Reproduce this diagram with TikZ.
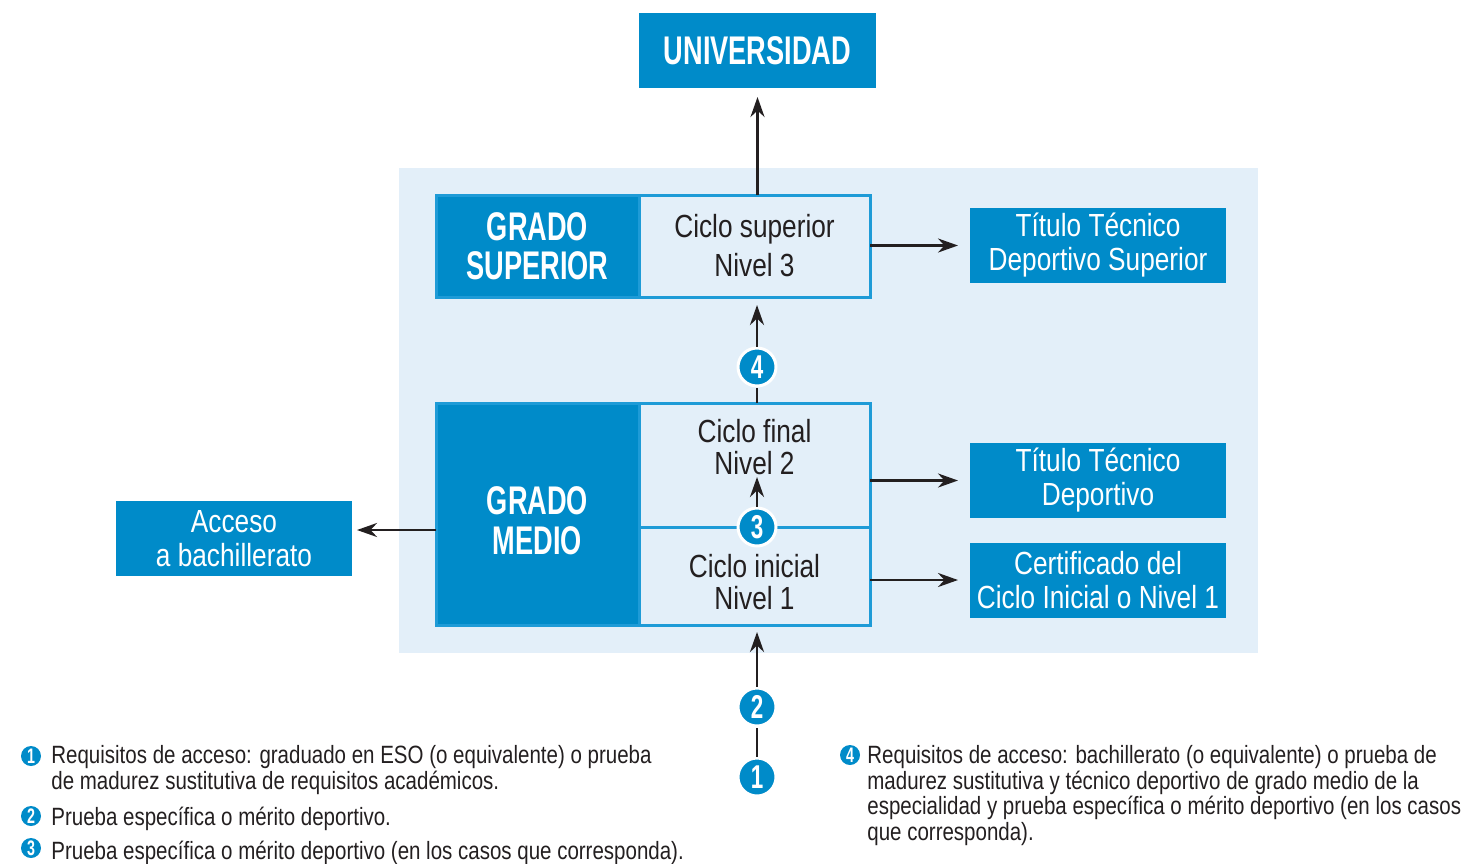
\documentclass[tikz,border=0pt]{standalone}
\usepackage{fontspec}
\setmainfont{Liberation Sans}[FakeStretch=0.82]
\newfontfamily\headfont{Liberation Sans}[FakeStretch=0.68]
\usetikzlibrary{positioning, calc, arrows.meta}
\definecolor{azul}{RGB}{0,139,201}
\definecolor{celeste}{RGB}{227,239,249}
\definecolor{borde}{RGB}{30,155,215}
\definecolor{flecha}{RGB}{35,31,32}

\begin{document}
\begin{tikzpicture}[
         x=0.5pt, y=-0.5pt,
         grado/.style={fill=azul, draw=borde, line width=1.5pt, outer sep=0pt, inner sep=0pt, text=white, align=center, font=\headfont\bfseries\fontsize{20}{19.5}\selectfont},
         ciclo/.style={fill=celeste, draw=borde, line width=1.5pt, outer sep=0pt, inner sep=0pt, minimum width=115.5pt, align=center, text=flecha, font=\fontsize{16}{16}\selectfont},
         rotulo/.style={align=center, inner sep=0pt, text=flecha},
         titulo/.style={fill=azul, text=white, outer sep=0pt, inner sep=0pt, minimum width=128pt, minimum height=37.5pt, align=center, font=\fontsize{16}{17}\selectfont},
         paso/.style={circle, fill=azul, draw=white, line width=1.5pt, text=white, minimum size=19pt, inner sep=0pt, font=\headfont\bfseries\fontsize{16.5}{16.5}\selectfont},
         bolita/.style={circle, fill=azul, text=white, minimum size=10pt, inner sep=0pt, font=\headfont\bfseries\fontsize{10.5}{10.5}\selectfont},
         nota/.style={anchor=north west, inner sep=0pt, align=left, text=flecha, font=\fontsize{12.5}{12.8}\selectfont},
         linea/.style={line width=1.4pt, draw=flecha},
         arr/.style={linea, -{Stealth[length=10pt, width=7pt]}}
      ]
         \useasboundingbox (0,0) rectangle (1481,863);
         \fill[celeste] (399,168) rectangle (1258,653);

         % Grado superior
         \node[grado, minimum width=101.5pt, minimum height=51pt] (supL) at (537.5,246) {GRADO\\SUPERIOR};
         \node[ciclo, minimum height=51pt, right=0pt of supL, font=\fontsize{16}{19.5}\selectfont] (supR) {Ciclo superior\\Nivel 3};

         % Grado medio
         \node[grado, minimum width=101.5pt, minimum height=111pt] (medL) at (537.5,514) {};
         \node[ciclo, minimum height=62pt, anchor=north west] (final) at (medL.north east) {};
         \node[ciclo, minimum height=49pt, anchor=north west] (inicial) at (final.south west) {};
         \node[rotulo, text=white, font=\headfont\bfseries\fontsize{20}{20}\selectfont] (medtxt) at (537.5,521) {GRADO\\MEDIO};
         \node[rotulo, font=\fontsize{16}{16}\selectfont] (finaltxt) at (754.5,447) {Ciclo final\\Nivel 2};
         \node[rotulo, font=\fontsize{16}{16}\selectfont] (iniciotxt) at (754.5,582) {Ciclo inicial\\Nivel 1};

         % Salidas
         \node[grado, draw=none, minimum width=118.5pt, minimum height=37.5pt] (uni) at (757.5,50.5) {UNIVERSIDAD};
         \node[titulo] (tts) at (1098,245.5) {Título Técnico\\Deportivo Superior};
         \node[titulo] (ttd) at (1098,480.5) {Título Técnico\\Deportivo};
         \node[titulo] (cert) at (1098,580) {Certificado del\\Ciclo Inicial o Nivel 1};
         \node[titulo, minimum width=118pt] (acceso) at (234,538.5) {Acceso\\a bachillerato};

         % Pasos
         \node[paso] (p4) at (757,367) {4};
         \node[paso] (p3) at (757,527) {3};
         \node[paso] (p2) at (757,707) {2};
         \node[paso] (p1) at (757,777) {1};
         \coordinate (n2) at (757,477);
         \coordinate (salida) at ($(medL.west)+(0,16)$);

         % Flechas
         \draw[arr, shorten >=4.5pt] (uni.south |- supR.north) -- (uni.south);
         \draw[linea] (p4 |- final.north) -- (p4.south);
         \draw[arr, shorten >=4pt] (p4.north) -- (p4 |- supR.south);
         \draw[arr] (p3.north) -- (n2);
         \draw[arr, shorten >=3.5pt] (p2.north) -- (p2 |- inicial.south);
         \draw[linea] (p1.north) -- (p2.south);
         \draw[arr, shorten >=6pt] (supR.east |- tts.west) -- (tts.west);
         \draw[arr, shorten >=6pt] (final.east |- ttd.west) -- (ttd.west);
         \draw[arr, shorten >=6pt] (inicial.east |- cert.west) -- (cert.west);
         \draw[arr, shorten >=2.5pt] (salida) -- (salida -| acceso.east);

         % Notas
         \node[bolita] (b1) at (31,756) {1};
         \node[nota] (n1) at (51,745) {Requisitos de acceso: graduado en ESO (o equivalente) o prueba\\de madurez sustitutiva de requisitos académicos.};
         \node[bolita] (b2) at (31,816) {2};
         \node[nota] (nt2) at (51,807) {Prueba específica o mérito deportivo.};
         \node[bolita] (b3) at (31,848) {3};
         \node[nota] (nt3) at (51,841) {Prueba específica o mérito deportivo (en los casos que corresponda).};
         \node[bolita] (b4) at (850,755) {4};
         \node[nota] (nt4) at (867,745) {Requisitos de acceso: bachillerato (o equivalente) o prueba de\\madurez sustitutiva y técnico deportivo de grado medio de la\\especialidad y prueba específica o mérito deportivo (en los casos\\que corresponda).};

      \end{tikzpicture}
\end{document}
